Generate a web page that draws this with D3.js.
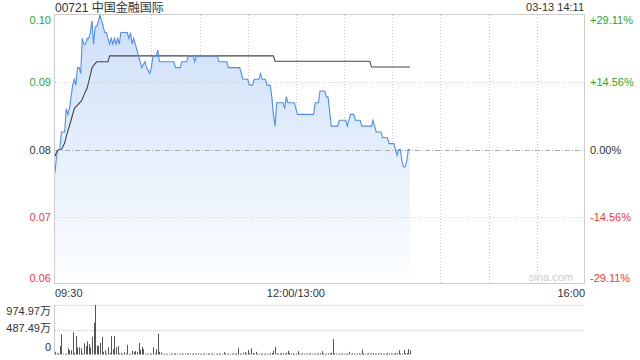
<!DOCTYPE html>
<html>
<head>
<meta charset="utf-8">
<script src="https://cdn.jsdelivr.net/npm/d3@7/dist/d3.min.js"></script>
<style>
  body { margin: 0; background: #fff; }
  svg { display: block; font-family: "Liberation Sans", Arial, "Noto Sans CJK SC", sans-serif; }
</style>
</head>
<body>
<div id="chart"></div>
<script>
const TITLE = "00721 中国金融国际";
const STAMP = "03-13 14:11";
const PREV_CLOSE = 0.079;

const pctTicks = [29.11, 14.56, 0, -14.56, -29.11];
const priceTickLabels = ["0.10", "0.09", "0.08", "0.07", "0.06"];
const pctTickLabels = ["+29.11%", "+14.56%", "0.00%", "-14.56%", "-29.11%"];

const timeTicks = [0, 150, 330];
const timeTickLabels = ["09:30", "12:00/13:00", "16:00"];

const volTicks = [974.97, 487.49, 0];
const volTickLabels = ["974.97万", "487.49万", "0"];

// [minute since 09:30 (lunch removed), price]
const pricePoints = [
  [0,0.075],[1,0.078],[2,0.079],[3,0.079],[4,0.082],[6,0.082],[7,0.086],[8,0.085],[9,0.086],
  [10,0.088],[11,0.090],[12,0.091],[13,0.090],[14,0.093],[15,0.093],[16,0.092],[17,0.098],
  [18,0.097],[19,0.097],[20,0.098],[21,0.098],[22,0.099],[23,0.101],[24,0.097],[25,0.100],
  [26,0.100],[27,0.101],[28,0.102],[29,0.101],[30,0.100],[31,0.099],[32,0.099],[33,0.098],
  [34,0.097],[35,0.098],[36,0.097],[37,0.098],[38,0.097],[39,0.098],[40,0.097],[41,0.099],
  [45,0.099],[46,0.098],[47,0.099],[48,0.097],[49,0.098],[50,0.097],[51,0.096],[52,0.095],
  [53,0.094],[54,0.093],[56,0.094],[57,0.093],[59,0.092],[60,0.093],[61,0.095],[63,0.095],
  [64,0.096],[65,0.094],[74,0.094],[75,0.093],[78,0.093],[79,0.094],[82,0.094],[83,0.095],
  [86,0.095],[87,0.094],[88,0.095],[101,0.095],[102,0.094],[107,0.094],[108,0.093],[115,0.093],
  [116,0.092],[117,0.091],[120,0.091],[121,0.090],[123,0.090],[124,0.091],[127,0.091],
  [128,0.092],[129,0.091],[131,0.091],[132,0.090],[134,0.090],[135,0.088],[136,0.085],
  [137,0.083],[138,0.087],[142,0.087],[143,0.086],[144,0.088],[145,0.087],[149,0.087],
  [150,0.086],[151,0.085],[161,0.085],[162,0.087],[164,0.087],[165,0.089],[168,0.089],
  [169,0.088],[170,0.088],[172,0.083],[176,0.083],[177,0.084],[181,0.084],[182,0.083],
  [184,0.085],[186,0.085],[187,0.084],[190,0.084],[191,0.083],[197,0.083],[198,0.084],
  [199,0.083],[200,0.082],[203,0.082],[204,0.081],[207,0.081],[208,0.080],[211,0.080],
  [212,0.079],[213,0.078],[214,0.079],[215,0.079],[216,0.077],[217,0.076],[218,0.076],
  [219,0.077],[220,0.079],[221,0.079]
];

const avgPoints = [
  [0,0.0778],[1,0.0786],[2,0.079],[4,0.079],[5,0.0795],[6,0.0801],[7,0.0812],[10,0.084],
  [12,0.086],[14,0.0866],[16,0.0872],[17,0.0876],[18,0.0883],[19,0.0889],[20,0.0895],
  [21,0.0906],[22,0.0917],[23,0.0929],[24,0.0934],[26,0.094],[33,0.094],[34,0.095],
  [136,0.095],[137,0.0941],[196,0.0941],[197,0.0931],[221,0.0931]
];

// volume per minute, 万股
const volumes = [
  53,20,25,165,400,15,10,20,120,85,
  85,440,30,360,140,140,120,25,220,165,
  257,205,140,350,626,975,180,165,230,350,
  53,85,20,140,30,362,105,362,140,165,
  20,33,15,46,20,190,15,10,72,53,
  66,53,230,85,150,105,15,20,10,20,
  15,140,20,105,408,53,40,15,12,18,
  10,14,20,12,16,25,14,10,18,22,
  12,20,15,24,16,12,20,14,18,25,
  15,12,20,16,14,22,18,12,20,15,
  14,18,22,15,12,46,20,14,16,12,
  18,22,15,25,132,20,14,30,53,18,
  85,25,120,30,20,53,18,14,22,16,
  12,20,18,15,25,30,72,150,25,18,
  20,28,22,15,35,72,30,18,22,15,
  20,66,18,14,22,16,20,12,18,25,
  15,20,14,22,18,25,66,20,15,18,
  22,28,35,303,25,18,14,20,16,22,
  18,14,20,53,15,22,18,12,20,24,
  16,100,22,15,18,25,14,20,30,18,
  15,22,18,25,16,14,20,28,18,22,
  15,20,25,30,85,18,22,85,25,30,
  105,85
];

const WIDTH = 640, HEIGHT = 360;
const LEFT = 55, RIGHT = 585, TOP = 15, BOTTOM = 284;
const VOL_TOP = 305, VOL_BOTTOM = 354.5;
const GREEN = "#2aaa2a", RED = "#f03c3c", DARK = "#333";

const svg = d3.select("#chart").append("svg")
  .attr("width", WIDTH).attr("height", HEIGHT);

const x = d3.scaleLinear().domain([0, 330]).range([LEFT, RIGHT]);
const y = d3.scaleLinear()
  .domain([PREV_CLOSE * (1 - 0.2911), PREV_CLOSE * (1 + 0.2911)])
  .range([BOTTOM, TOP]);
const yVol = d3.scaleLinear().domain([0, 974.97]).range([VOL_BOTTOM, VOL_TOP]);
const pctToPrice = p => PREV_CLOSE * (1 + p / 100);
const tickColor = p => p > 0 ? GREEN : (p < 0 ? RED : DARK);

// gradient
const grad = svg.append("defs").append("linearGradient")
  .attr("id", "fill").attr("x1", 0).attr("y1", 0).attr("x2", 0).attr("y2", 1)
  .attr("gradientUnits", "userSpaceOnUse")
  .attr("x1", 0).attr("y1", TOP).attr("x2", 0).attr("y2", BOTTOM);
grad.append("stop").attr("offset", "0%").attr("stop-color", "#cddff8");
grad.append("stop").attr("offset", "100%").attr("stop-color", "#fdfeff");

// vertical grid
svg.append("g").selectAll("line")
  .data(d3.range(30, 330, 30))
  .enter().append("line")
  .attr("x1", d => Math.round(x(d)) + 0.5).attr("x2", d => Math.round(x(d)) + 0.5)
  .attr("y1", TOP).attr("y2", BOTTOM)
  .attr("stroke", "#ccc").attr("stroke-dasharray", "1,2");

// area + lines
const area = d3.area().x(d => x(d[0])).y0(BOTTOM).y1(d => y(d[1]));
svg.append("path").datum(pricePoints).attr("d", area).attr("fill", "url(#fill)");

// horizontal grid
svg.append("g").selectAll("line")
  .data(pctTicks.slice(1, 4))
  .enter().append("line")
  .attr("x1", LEFT).attr("x2", RIGHT)
  .attr("y1", d => Math.round(y(pctToPrice(d))) + 0.5)
  .attr("y2", d => Math.round(y(pctToPrice(d))) + 0.5)
  .attr("stroke", d => d === 0 ? "#aaa" : "#ccc")
  .attr("stroke-dasharray", d => d === 0 ? "5,2,1,2" : "1,2");

const line = d3.line().x(d => x(d[0])).y(d => y(d[1]));
svg.append("path").datum(avgPoints).attr("d", line)
  .attr("fill", "none").attr("stroke", "#444").attr("stroke-width", 1.1);
svg.append("path").datum(pricePoints).attr("d", line)
  .attr("fill", "none").attr("stroke", "#4d8fea").attr("stroke-width", 1.1);

// border
svg.append("rect")
  .attr("x", LEFT - 0.5).attr("y", TOP - 0.5)
  .attr("width", RIGHT - LEFT).attr("height", BOTTOM - TOP)
  .attr("fill", "none").attr("stroke", "#ccc");

// watermark
svg.append("text").attr("x", 573).attr("y", 281)
  .attr("text-anchor", "end").attr("font-size", 11).attr("fill", "#ccc")
  .text("sina.com");

// left price labels
svg.append("g").selectAll("text")
  .data(pctTicks)
  .enter().append("text")
  .attr("x", 51)
  .attr("y", (d, i) => i === 0 ? TOP + 9 : (i === 4 ? BOTTOM - 2 : y(pctToPrice(d)) + 4))
  .attr("text-anchor", "end").attr("font-size", 11)
  .attr("fill", tickColor)
  .text((d, i) => priceTickLabels[i]);

// right pct labels
svg.append("g").selectAll("text")
  .data(pctTicks)
  .enter().append("text")
  .attr("x", 590)
  .attr("y", (d, i) => i === 0 ? TOP + 9 : (i === 4 ? BOTTOM - 2 : y(pctToPrice(d)) + 4))
  .attr("font-size", 11)
  .attr("fill", tickColor)
  .text((d, i) => pctTickLabels[i]);

// time labels
svg.append("g").selectAll("text")
  .data(timeTicks)
  .enter().append("text")
  .attr("x", d => x(d))
  .attr("y", 297)
  .attr("text-anchor", (d, i) => i === 0 ? "start" : (i === 2 ? "end" : "middle"))
  .attr("font-size", 11).attr("fill", DARK)
  .text((d, i) => timeTickLabels[i]);

// title + time stamp
svg.append("text").attr("x", 55).attr("y", 11.5)
  .attr("font-size", 12).attr("fill", DARK).text(TITLE);
svg.append("text").attr("x", 584).attr("y", 11)
  .attr("text-anchor", "end").attr("font-size", 11).attr("fill", DARK).text(STAMP);

// volume panel
svg.append("g").selectAll("line")
  .data(volTicks.slice(0, 2))
  .enter().append("line")
  .attr("x1", LEFT).attr("x2", RIGHT)
  .attr("y1", d => Math.round(yVol(d)) + 0.5).attr("y2", d => Math.round(yVol(d)) + 0.5)
  .attr("stroke", "#ccc").attr("stroke-dasharray", "1,1");

svg.append("line")
  .attr("x1", LEFT - 0.5).attr("x2", LEFT - 0.5)
  .attr("y1", VOL_TOP).attr("y2", VOL_BOTTOM)
  .attr("stroke", "#ccc");

svg.append("g").selectAll("rect")
  .data(volumes)
  .enter().append("rect")
  .attr("x", (d, i) => Math.round(x(i)))
  .attr("y", d => yVol(d))
  .attr("width", 1)
  .attr("height", d => VOL_BOTTOM - yVol(d))
  .attr("fill", "#555");

svg.append("g").selectAll("text")
  .data(volTicks)
  .enter().append("text")
  .attr("x", 51)
  .attr("y", (d, i) => [315, 332, 351][i])
  .attr("text-anchor", "end").attr("font-size", 11).attr("fill", DARK)
  .text((d, i) => volTickLabels[i]);
</script>
</body>
</html>
